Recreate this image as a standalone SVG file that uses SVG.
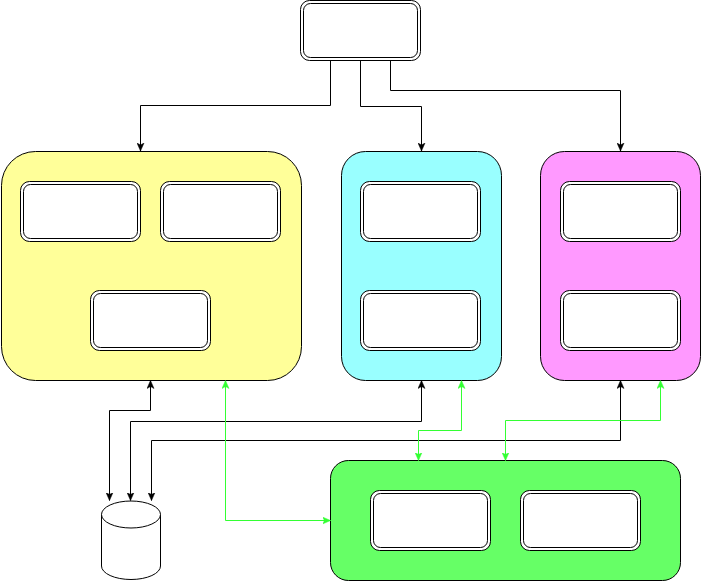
<svg xmlns="http://www.w3.org/2000/svg" width="702" height="584" viewBox="0 0 702 584">
<style>
.box{stroke:#000;stroke-width:1}
.dbl-o{fill:#fff;stroke:#000;stroke-width:1}
.dbl-i{fill:none;stroke:#000;stroke-width:1}
.c{fill:none;stroke:#000;stroke-width:1}
.g{fill:none;stroke:#33ff33;stroke-width:1}
</style>
<defs>
<marker id="ab" viewBox="0 0 8 8" refX="8" refY="4" markerWidth="8" markerHeight="8" markerUnits="userSpaceOnUse" orient="auto-start-reverse">
<path d="M0,0.5 L8,4 L0,7.5 L2,4 z" fill="#000" stroke="#000" stroke-width="0.5"/>
</marker>
<marker id="ag" viewBox="0 0 8 8" refX="8" refY="4" markerWidth="8" markerHeight="8" markerUnits="userSpaceOnUse" orient="auto-start-reverse">
<path d="M0,0.5 L8,4 L0,7.5 L2,4 z" fill="#33ff33" stroke="#33ff33" stroke-width="0.5"/>
</marker>
</defs>
<g id="top">
<rect class="dbl-o" x="300.5" y="0.5" width="120" height="60" rx="9"/>
<rect class="dbl-i" x="303.5" y="3.5" width="114" height="54" rx="7"/>
</g>
<g id="yellow">
<rect class="box" x="1.5" y="151.5" width="300" height="229" rx="34" fill="#ffff99"/>
<rect class="dbl-o" x="20.5" y="181.5" width="120" height="60" rx="9"/>
<rect class="dbl-i" x="23.5" y="184.5" width="114" height="54" rx="7"/>
<rect class="dbl-o" x="160.5" y="181.5" width="120" height="60" rx="9"/>
<rect class="dbl-i" x="163.5" y="184.5" width="114" height="54" rx="7"/>
<rect class="dbl-o" x="90.5" y="290.5" width="120" height="60" rx="9"/>
<rect class="dbl-i" x="93.5" y="293.5" width="114" height="54" rx="7"/>
</g>
<g id="cyan">
<rect class="box" x="341.5" y="151.5" width="160" height="229" rx="24" fill="#99ffff"/>
<rect class="dbl-o" x="360.5" y="181.5" width="120" height="60" rx="9"/>
<rect class="dbl-i" x="363.5" y="184.5" width="114" height="54" rx="7"/>
<rect class="dbl-o" x="360.5" y="290.5" width="120" height="60" rx="9"/>
<rect class="dbl-i" x="363.5" y="293.5" width="114" height="54" rx="7"/>
</g>
<g id="magenta">
<rect class="box" x="540.5" y="151.5" width="160" height="229" rx="24" fill="#ff99ff"/>
<rect class="dbl-o" x="560.5" y="181.5" width="120" height="60" rx="9"/>
<rect class="dbl-i" x="563.5" y="184.5" width="114" height="54" rx="7"/>
<rect class="dbl-o" x="560.5" y="290.5" width="120" height="60" rx="9"/>
<rect class="dbl-i" x="563.5" y="293.5" width="114" height="54" rx="7"/>
</g>
<g id="green">
<rect class="box" x="330.5" y="460.5" width="350" height="120" rx="18" fill="#66ff66"/>
<rect class="dbl-o" x="370.5" y="490.5" width="120" height="60" rx="9"/>
<rect class="dbl-i" x="373.5" y="493.5" width="114" height="54" rx="7"/>
<rect class="dbl-o" x="520.5" y="490.5" width="120" height="60" rx="9"/>
<rect class="dbl-i" x="523.5" y="493.5" width="114" height="54" rx="7"/>
</g>
<g id="db">
<path d="M101.5,514.5 L101.5,566 A29.5,13.5 0 0 0 160.5,566 L160.5,514.5" fill="#fff" stroke="#000"/>
<ellipse cx="131" cy="514.5" rx="29.5" ry="13.5" fill="#fff" stroke="#000"/>
</g>
<g id="connectors">
<path class="c" d="M330.5,60.5 V105.5 H140.5 V151" marker-end="url(#ab)"/>
<path class="c" d="M360.5,60.5 V106.5 H421.5 V151" marker-end="url(#ab)"/>
<path class="c" d="M390.5,60.5 V90.5 H620.5 V151" marker-end="url(#ab)"/>
<path class="c" d="M109.5,500.5 V410.5 H150.5 V380.5" marker-start="url(#ab)" marker-end="url(#ab)"/>
<path class="c" d="M130.5,500.5 V421.5 H421.5 V380.5" marker-start="url(#ab)" marker-end="url(#ab)"/>
<path class="c" d="M151.5,500.5 V440.5 H620.5 V380.5" marker-start="url(#ab)" marker-end="url(#ab)"/>
<path class="g" d="M225.5,380.5 V520.5 H330.5" marker-start="url(#ag)" marker-end="url(#ag)"/>
<path class="g" d="M461.5,380.5 V430.5 H418.5 V460.5" marker-start="url(#ag)" marker-end="url(#ag)"/>
<path class="g" d="M660.5,380.5 V420.5 H505.5 V460.5" marker-start="url(#ag)" marker-end="url(#ag)"/>
</g>
</svg>
